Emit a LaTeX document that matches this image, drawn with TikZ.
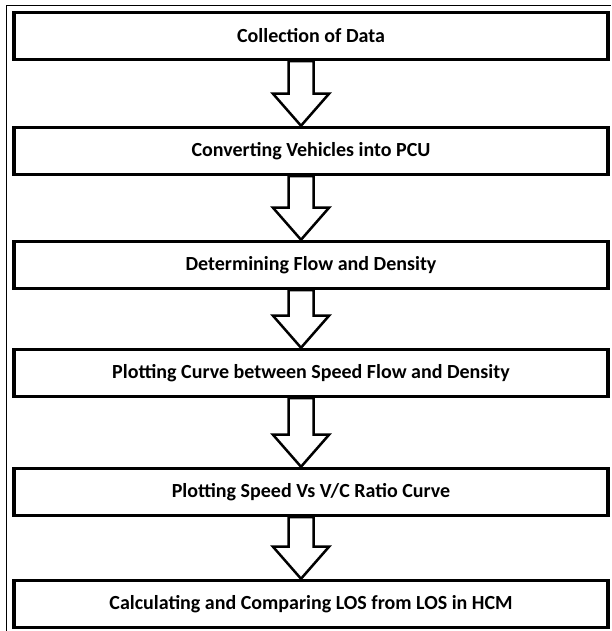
\documentclass[tikz,border=0pt]{standalone}
\usepackage{fontspec}
\setmainfont{Carlito}
\usetikzlibrary{calc,backgrounds}

\begin{document}
\begin{tikzpicture}[x=1pt,y=1pt,
    stepbox/.style={draw,line width=3.5pt,minimum width=594pt,minimum height=47pt,
        inner sep=0pt,font=\fontsize{20}{24}\selectfont\bfseries},
    blockarrow/.style={draw,line width=2.5pt,fill=white,line join=miter}]
    \useasboundingbox (0,0) rectangle (611,631);
    \draw[line width=1pt] (6,0) -- (6,625.5) -- (611,625.5);
    \node[stepbox] (s1) at (311,595) {Collection of Data};
    \node[stepbox] (s2) at (311,480) {Converting Vehicles into PCU};
    \node[stepbox] (s3) at (311,366) {Determining Flow and Density};
    \node[stepbox] (s4) at (311,258) {Plotting Curve between Speed Flow and Density};
    \node[stepbox] (s5) at (311,139) {Plotting Speed Vs V/C Ratio Curve};
    \node[stepbox] (s6) at (311,27) {Calculating and Comparing LOS from LOS in HCM};
    % block arrows between steps
    \begin{pgfonlayer}{background}
    \foreach \i/\j in {1/2,2/3,3/4,4/5,5/6}{
    \draw[blockarrow] ($(s\i.south)+(-22.5,0)$) -- ($(s\j.north)+(-22.5,32)$)
    -- ($(s\j.north)+(-38,32)$) -- ($(s\j.north)+(-10,0)$)
    -- ($(s\j.north)+(18,32)$) -- ($(s\j.north)+(2.5,32)$)
    -- ($(s\i.south)+(2.5,0)$) -- cycle;}
    \end{pgfonlayer}
\end{tikzpicture}
\end{document}
